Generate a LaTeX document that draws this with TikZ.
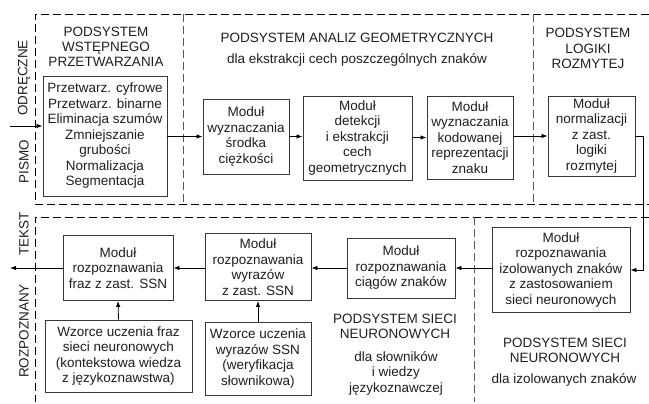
\documentclass[tikz,border=0pt]{standalone}
\usepackage{fontspec}
\setmainfont{Liberation Sans}
\usetikzlibrary{arrows.meta}
\begin{document}
\begin{tikzpicture}[x=1pt,y=-1pt,
  every node/.style={text=black!88, font=\fontsize{13.5}{15.5}\selectfont, inner sep=0pt, align=center},
  mod/.style={draw=black!78, line width=0.9pt, fill=white},
  ttl/.style={font=\fontsize{13.5}{15.2}\selectfont},
  side/.style={rotate=90, font=\fontsize{13.5}{15.5}\selectfont},
  frame/.style={draw=black, line width=0.8pt, dash pattern=on 8pt off 4pt},
  divider/.style={draw=black!65, line width=0.8pt, dash pattern=on 8pt off 4pt},
  arr/.style={draw=black, line width=0.8pt, -{Latex[length=6pt,width=4.5pt]}},
  ln/.style={draw=black, line width=0.8pt}]
\useasboundingbox (0,0) rectangle (649,404);

% frames
\draw[frame] (649,14) -- (35,14) -- (35,204) -- (649,204);
\draw[divider] (183,14) -- (183,204);
\draw[divider] (533,14) -- (533,204);
\draw[frame] (649,217) -- (35,217) -- (35,402);
\draw[divider] (474,217) -- (474,402);

% side labels
\node[side] (lodr) at (24,78) {ODRĘCZNE};
\node[side] (lpis) at (24,162) {PISMO};
\node[side] (ltek) at (24,234) {TEKST};
\node[side] (lroz) at (24,331) {ROZPOZNANY};

% titles
\node[ttl] (tpre) at (106,47) {PODSYSTEM\\WSTĘPNEGO\\PRZETWARZANIA};
\node[ttl] (tgeo) at (357,38) {PODSYSTEM ANALIZ GEOMETRYCZNYCH};
\node (tgeo2) at (357,60) {dla ekstrakcji cech poszczególnych znaków};
\node[ttl] (tfuz) at (588,48.5) {PODSYSTEM\\LOGIKI\\ROZMYTEJ};
\node[ttl] (twrd) at (395,326) {PODSYSTEM SIECI\\NEURONOWYCH};
\node (twrd2) at (396,373) {dla słowników\\i wiedzy\\językoznawczej};
\node[ttl] (tiso) at (565,350.5) {PODSYSTEM SIECI\\NEURONOWYCH};
\node (tiso2) at (564,380) {dla izolowanych znaków};

% top row modules
\node[mod, minimum width=124pt, minimum height=120pt] (pre) at (105,136)
  {Przetwarz. cyfrowe\\Przetwarz. binarne\\Eliminacja szumów\\Zmniejszanie\\grubości\\Normalizacja\\Segmentacja};
\node[mod, minimum width=86pt, minimum height=75pt] (m1) at (246,136.5)
  {Moduł\\wyznaczania\\środka\\ciężkości};
\node[mod, minimum width=109pt, minimum height=84pt] (m2) at (357.5,138)
  {Moduł\\detekcji\\i ekstrakcji\\cech\\geometrycznych};
\node[mod, minimum width=86pt, minimum height=83pt] (m3) at (470,137.5)
  {Moduł\\wyznaczania\\kodowanej\\reprezentacji\\znaku};
\node[mod, minimum width=87pt, minimum height=80pt] (m4) at (591.5,136)
  {Moduł\\normalizacji\\z zast.\\logiki\\rozmytej};

% bottom row modules
\node[mod, minimum width=138pt, minimum height=85pt] (iso) at (561,270)
  {Moduł\\rozpoznawania\\izolowanych znaków\\z zastosowaniem\\sieci neuronowych};
\node[mod, minimum width=108pt, minimum height=60pt] (str) at (401,268)
  {Moduł\\rozpoznawania\\ciągów znaków};
\node[mod, minimum width=106pt, minimum height=67pt] (wrd) at (258,267)
  {Moduł\\rozpoznawania\\wyrazów\\z zast. SSN};
\node[mod, minimum width=106pt, minimum height=73pt] (wpat) at (258,358.5)
  {Wzorce uczenia\\wyrazów SSN\\(weryfikacja\\słownikowa)};
\node[mod, minimum width=110pt, minimum height=65pt] (phr) at (118,268)
  {Moduł\\rozpoznawania\\fraz z zast. SSN};
\node[mod, minimum width=147pt, minimum height=72pt] (fpat) at (118.5,356)
  {Wzorce uczenia fraz\\sieci neuronowych\\(kontekstowa wiedza\\z językoznawstwa)};

% connectors
\coordinate (in) at (10,126);
\coordinate (out) at (10,268);
\coordinate (turn) at (643,136);
\draw[arr] (in) -- (in -| pre.west);
\draw[arr] (pre.east |- m1.west) -- (m1.west);
\draw[arr] (m1.east) -- (m1.east -| m2.west);
\draw[arr] (m2.east |- m3.west) -- (m3.west);
\draw[arr] (m3.east |- m4.west) -- (m4.west);
\draw[arr] (m4.east) -- (turn) |- (iso.east);
\draw[arr] (iso.west |- str.east) -- (str.east);
\draw[arr] (str.west) -- (str.west -| wrd.east);
\draw[arr] (wrd.west |- phr.east) -- (phr.east);
\draw[arr] (phr.west) -- (out);
\draw[arr] (wpat.north) -- (wrd.south);
\draw[arr] (fpat.north) -- (phr.south);
\end{tikzpicture}
\end{document}
